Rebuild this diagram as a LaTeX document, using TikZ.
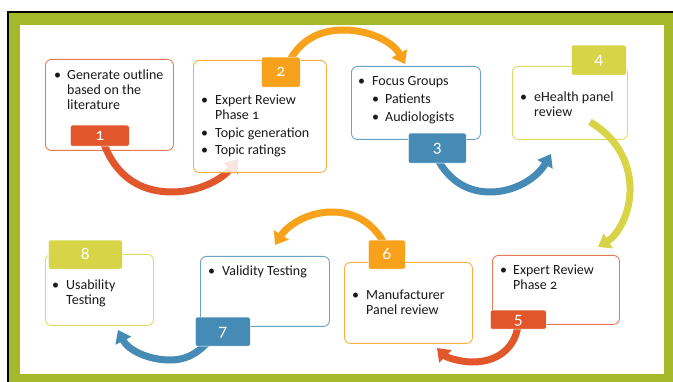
\documentclass[tikz,border=0pt]{standalone}
\usepackage{fontspec}
\setmainfont{Carlito}[Numbers=OldStyle]
\usetikzlibrary{arrows.meta}

\definecolor{frameG}{HTML}{A5B829}
\definecolor{redC}{HTML}{E1572B}
\definecolor{orangeC}{HTML}{F8A11A}
\definecolor{blueC}{HTML}{458BB5}
\definecolor{yellowC}{HTML}{D8D448}
\definecolor{textC}{HTML}{1A1A1A}

% bullet followed by a block of lines
\newcommand{\bitem}[2]{\makebox[#1][l]{\textbullet}\begin{tabular}[t]{@{}l@{}}#2\end{tabular}}

\tikzset{
  box/.style={rounded corners=6pt, line width=0.9pt, fill=white, anchor=north west, inner sep=0pt},
  tag/.style={rounded corners=1.5pt, draw=white, line width=0.5pt, anchor=north west, inner sep=0pt},
  digit/.style={text=white, font=\fontsize{17.5}{17.5}\selectfont, inner sep=0pt, anchor=base},
  itm/.style={anchor=base west, inner sep=0pt, align=left, font=\fontsize{14}{15}\selectfont, text=textC},
  flow/.style={line width=7pt, -{Triangle[width=17pt,length=12pt]}}
}

\begin{document}
\begin{tikzpicture}[x=1pt,y=-1pt]
\useasboundingbox (0,0) rectangle (673,382);

% frame
\fill[black] (7,11) rectangle (673,382);
\fill[frameG] (9,13) rectangle (673,382);
\fill[white] (20,25) rectangle (664,374);

% step boxes
\node[box, draw=redC!80!white, minimum width=128pt, minimum height=91pt] (b1) at (45,59) {};
\node[box, draw=blueC!80!white, minimum width=129pt, minimum height=73pt] (b3) at (351,66) {};
\node[box, draw=yellowC!85!white, minimum width=115pt, minimum height=73pt] (b4) at (512,66) {};
\node[box, draw=redC!80!white, minimum width=127pt, minimum height=69pt] (b5) at (492,255) {};
\node[box, draw=orangeC!85!white, minimum width=128pt, minimum height=81pt] (b6) at (344,262) {};
\node[box, draw=blueC!80!white, minimum width=129pt, minimum height=70pt] (b7) at (200,256) {};
\node[box, draw=yellowC!85!white, minimum width=108pt, minimum height=71pt] (b8) at (45,254) {};

% connector end points
\coordinate (a1s) at (104,144); \coordinate (a1e) at (238,159);
\coordinate (a2s) at (289,62);  \coordinate (a2e) at (405,64);
\coordinate (a3s) at (437,158); \coordinate (a3e) at (551,154);
\coordinate (a4s) at (590,122); \coordinate (a4e) at (598,247);
\coordinate (a5s) at (518,325); \coordinate (a5e) at (437,348);
\coordinate (a6s) at (385,245); \coordinate (a6e) at (275,245);
\coordinate (a7s) at (208,342); \coordinate (a7e) at (118,330);

% curved connectors
\draw[flow, redC] (a1s) .. controls (116,176) and (140,192) .. (172,192) .. controls (198,192) and (222,180) .. (a1e);
\draw[flow, orangeC] (a2s) .. controls (300,40) and (320,30) .. (343,30) .. controls (370,30) and (393,42) .. (a2e);
\draw[flow, blueC] (a3s) .. controls (450,183) and (470,192) .. (490,192) .. controls (515,192) and (537,178) .. (a3e);
\draw[flow, yellowC] (a4s) .. controls (618,138) and (631,165) .. (630,192) .. controls (629,218) and (616,236) .. (a4e);
\draw[flow, redC] (a5s) .. controls (515,350) and (495,362) .. (473,362) .. controls (459,362) and (446,357) .. (a5e);
\draw[flow, orangeC] (a6s) .. controls (372,220) and (352,212) .. (332,212) .. controls (307,212) and (287,226) .. (a6e);
\draw[flow, blueC] (a7s) .. controls (195,356) and (183,360) .. (170,360) .. controls (148,360) and (128,350) .. (a7e);

% box 2 lies over the tip of the first connector
\node[box, draw=orangeC!85!white, fill opacity=0.85, minimum width=133pt, minimum height=112pt] (b2) at (193,60) {};

% number tags
\node[tag, fill=redC, minimum width=59pt, minimum height=21pt] (t1) at (70,125) {};
\node[tag, fill=orangeC, minimum width=39pt, minimum height=30pt] (t2) at (261,57) {};
\node[tag, fill=blueC, minimum width=58pt, minimum height=30pt] (t3) at (408,133) {};
\node[tag, fill=yellowC, minimum width=55pt, minimum height=30pt] (t4) at (571,45) {};
\node[tag, fill=redC, minimum width=56pt, minimum height=19pt] (t5) at (490,310) {};
\node[tag, fill=orangeC, minimum width=37pt, minimum height=29pt] (t6) at (368,240) {};
\node[tag, fill=blueC, minimum width=55pt, minimum height=29pt] (t7) at (195,317) {};
\node[tag, fill=yellowC, minimum width=74pt, minimum height=29pt] (t8) at (48,240) {};

\node[digit] (d1) at ([yshift=-4.5pt]t1.center) {1};
\node[digit] (d2) at ([yshift=-4.5pt]t2.center) {2};
\node[digit] (d3) at ([yshift=-4.5pt]t3.center) {3};
\node[digit] (d4) at ([yshift=-4.5pt]t4.center) {4};
\node[digit] (d5) at ([yshift=-4.5pt]t5.center) {5};
\node[digit] (d6) at ([yshift=-4.5pt]t6.center) {6};
\node[digit] (d7) at ([yshift=-4.5pt]t7.center) {7};
\node[digit] (d8) at ([yshift=-4.5pt]t8.center) {8};

% box texts
\node[itm] (x1) at (54,80) {\bitem{13pt}{Generate outline\\based on the\\literature}};
\node[itm] (x2a) at (201,105) {\bitem{14pt}{Expert Review\\Phase 1}};
\node[itm] (x2b) at (201,138) {\bitem{14pt}{Topic generation}};
\node[itm] (x2c) at (201,155) {\bitem{14pt}{Topic ratings}};
\node[itm] (x3a) at (358,86) {\bitem{14pt}{Focus Groups}};
\node[itm] (x3b) at (372,104) {\bitem{13pt}{Patients}};
\node[itm] (x3c) at (372,122) {\bitem{13pt}{Audiologists}};
\node[itm] (x4) at (520,102) {\bitem{14pt}{eHealth panel\\review}};
\node[itm] (x5) at (500,275) {\bitem{13pt}{Expert Review\\Phase 2}};
\node[itm] (x6) at (352,300) {\bitem{14pt}{Manufacturer\\Panel review}};
\node[itm] (x7) at (208,276) {\bitem{14pt}{Validity Testing}};
\node[itm] (x8) at (52,290) {\bitem{14pt}{Usability\\Testing}};
\end{tikzpicture}
\end{document}
